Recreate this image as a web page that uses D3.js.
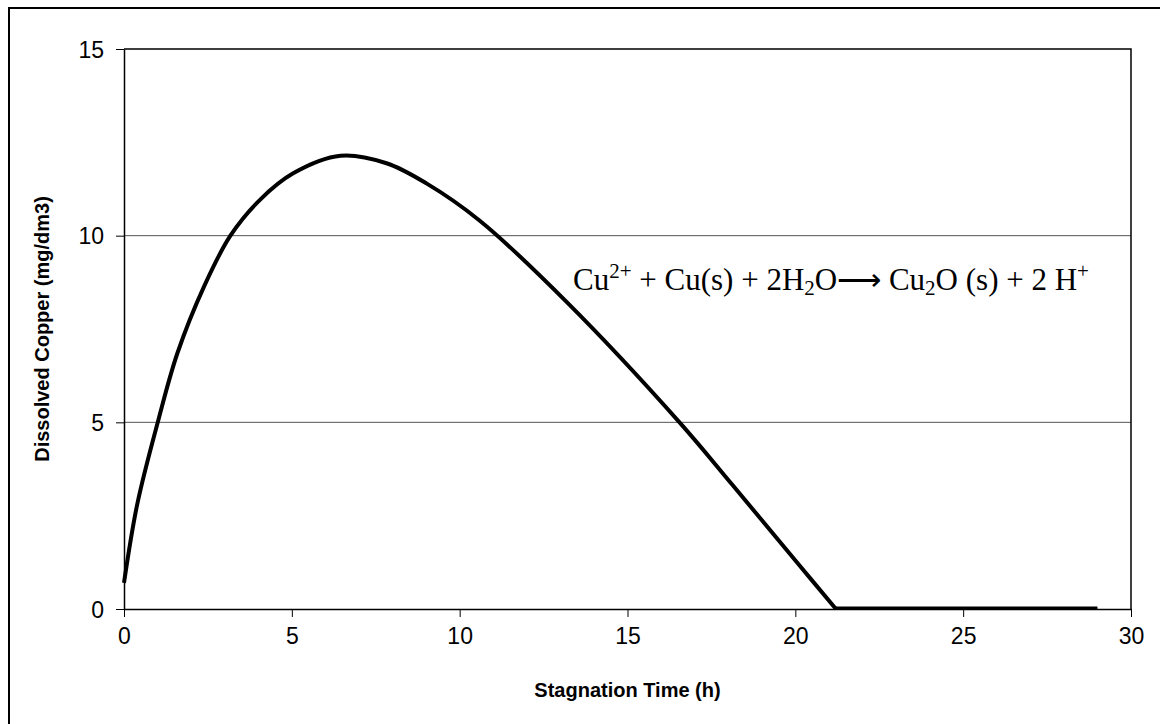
<!DOCTYPE html>
<html>
<head>
<meta charset="utf-8">
<script src="https://cdn.jsdelivr.net/npm/d3@7"></script>
<style>
  body { margin: 0; background: #fff; }
  svg { display: block; }
</style>
</head>
<body>
<div id="chart"></div>
<script>
// values
var timeH = [0, 0.40, 1.02, 1.59, 2.38, 3.17, 4.05, 5.04, 6.45, 7.82, 9.01, 10.6, 13.17, 16.55, 18.13, 20.12, 21.21];
var copper = [0.7, 2.83, 5.05, 6.85, 8.63, 10.0, 10.96, 11.67, 12.14, 11.94, 11.40, 10.4, 8.24, 5.0, 3.32, 1.17, 0];
var tailTime = [21.21, 29.0];
var tailCopper = [0, 0];

var xTicks = [0, 5, 10, 15, 20, 25, 30];
var yTicks = [0, 5, 10, 15];
var gridValues = [5, 10];

var width = 1160, height = 724;
var margin = {left: 124, right: 29, top: 49, bottom: 115};

var svg = d3.select('#chart').append('svg')
    .attr('width', width)
    .attr('height', height);

// outer chart frame (right and bottom edges fall off the canvas)
svg.append('rect')
    .attr('x', 9).attr('y', 8)
    .attr('width', width + 20).attr('height', height + 20)
    .attr('fill', 'none')
    .attr('stroke', '#000')
    .attr('stroke-width', 2);

var x = d3.scaleLinear().domain([0, 30]).range([margin.left, width - margin.right]);
var y = d3.scaleLinear().domain([0, 15]).range([height - margin.bottom, margin.top]);

// gridlines
svg.append('g').selectAll('line')
    .data(gridValues)
    .enter().append('line')
    .attr('x1', x(0)).attr('x2', x(30))
    .attr('y1', function(d) { return y(d); })
    .attr('y2', function(d) { return y(d); })
    .attr('stroke', '#555')
    .attr('stroke-width', 1);

// top and right border of plot area
svg.append('path')
    .attr('d', 'M' + x(0) + ',' + y(15) + 'H' + x(30) + 'V' + y(0))
    .attr('fill', 'none')
    .attr('stroke', '#000')
    .attr('stroke-width', 1.5);

// axes
var xAxis = svg.append('g')
    .attr('transform', 'translate(0,' + y(0) + ')')
    .call(d3.axisBottom(x).tickValues(xTicks).tickSize(8).tickPadding(11).tickSizeOuter(0));
var yAxis = svg.append('g')
    .attr('transform', 'translate(' + x(0) + ',0)')
    .call(d3.axisLeft(y).tickValues(yTicks).tickSize(8).tickPadding(12).tickSizeOuter(0));

[xAxis, yAxis].forEach(function(a) {
    a.select('.domain').attr('stroke', '#000').attr('stroke-width', 1.5);
    a.selectAll('.tick line').attr('stroke', '#000').attr('stroke-width', 1);
    a.selectAll('.tick text')
        .attr('fill', '#000')
        .style('font-family', 'Arial, "Liberation Sans", sans-serif')
        .style('font-size', '23px');
});
yAxis.selectAll('.tick text').attr('dy', '0.36em');

// the curve
var pts = timeH.map(function(t, i) { return [t, copper[i]]; });
var tail = tailTime.map(function(t, i) { return [t, tailCopper[i]]; });

svg.append('path')
    .datum(pts)
    .attr('fill', 'none')
    .attr('stroke', '#000')
    .attr('stroke-width', 4)
    .attr('stroke-linejoin', 'round')
    .attr('d', d3.line()
        .x(function(d) { return x(d[0]); })
        .y(function(d) { return y(d[1]); })
        .curve(d3.curveCatmullRom.alpha(0.5)));

svg.append('path')
    .datum(tail)
    .attr('fill', 'none')
    .attr('stroke', '#000')
    .attr('stroke-width', 3)
    .attr('d', d3.line()
        .x(function(d) { return x(d[0]); })
        .y(function(d) { return y(d[1]) - 1; }));

// axis titles
svg.append('text')
    .attr('x', (x(0) + x(30)) / 2)
    .attr('y', 697)
    .attr('text-anchor', 'middle')
    .style('font-family', 'Arial, "Liberation Sans", sans-serif')
    .style('font-size', '20px')
    .style('font-weight', 'bold')
    .text('Stagnation Time (h)');

svg.append('text')
    .attr('transform', 'translate(49,' + (y(0) + y(15)) / 2 + ') rotate(-90)')
    .attr('text-anchor', 'middle')
    .style('font-family', 'Arial, "Liberation Sans", sans-serif')
    .style('font-size', '20px')
    .style('font-weight', 'bold')
    .text('Dissolved Copper (mg/dm3)');

// reaction annotation
var eq = svg.append('text')
    .attr('x', 573)
    .attr('y', 290)
    .style('font-family', '"Times New Roman", "Liberation Serif", serif')
    .style('font-size', '31px')
    .attr('fill', '#000');

var parts = [
    ['Cu', 0], ['2+', 1], [' + Cu(s) + 2H', 0], ['2', -1], ['O\u27F6 Cu', 0], ['2', -1],
    ['O (s) + 2 H', 0], ['+', 1]
];
var shift = 0;
parts.forEach(function(p) {
    var target = p[1] === 1 ? -12 : (p[1] === -1 ? 5 : 0);
    eq.append('tspan')
        .attr('dy', target - shift)
        .style('font-size', p[1] === 0 ? '31px' : '21px')
        .text(p[0]);
    shift = target;
});
</script>
</body>
</html>
